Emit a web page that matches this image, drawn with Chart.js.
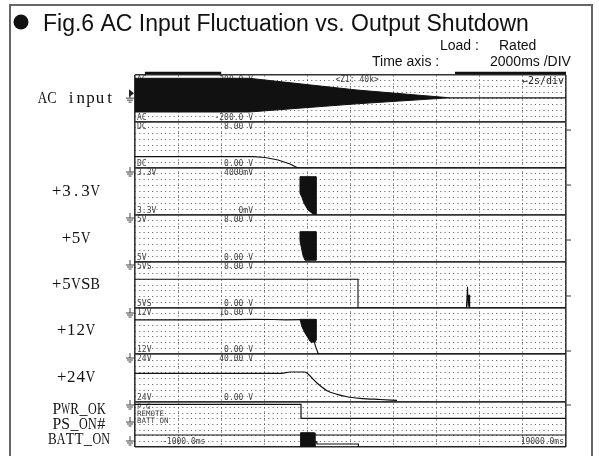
<!DOCTYPE html>
<html>
<head>
<meta charset="utf-8">
<script src="https://cdn.jsdelivr.net/npm/chart.js@4.4.1/dist/chart.umd.min.js"></script>
<style>
  html, body { margin: 0; padding: 0; background: #fff; }
  #wrap { width: 599px; height: 456px; position: relative; }
</style>
</head>
<body>
<div id="wrap"><canvas id="scope"></canvas></div>
<script>
// Time base: 2000 ms per division, record runs from -1000 ms to 19000 ms
const timeGrid = [-1000, 1000, 3000, 5000, 7000, 9000, 11000, 13000, 15000, 17000, 19000];

// Channels, top to bottom
const channelIds   = ['ac', 'dc', 'v33', 'v5', 'v5sb', 'v12', 'v24', 'logic'];
const channelNames = ['AC input', '', '+3.3V', '+5V', '+5VSB', '+12V', '+24V', ''];
const channelMin   = [-200, 0, 0, 0, 0, 0, 0, 0];
const channelMax   = [200, 8, 4000, 8, 8, 16, 40, 8];
const channelTopText = [['AC', '200.0 V'], ['DC', '8.00 V'], ['3.3V', '4000mV'], ['5V', '8.00 V'],
                        ['5VS', '8.00 V'], ['12V', '16.00 V'], ['24V', '40.00 V'], null];
const channelBottomText = [['AC', '-200.0 V'], ['DC', '0.00 V'], ['3.3V', '0mV'], ['5V', '0.00 V'],
                           ['5VS', '0.00 V'], ['12V', '0.00 V'], ['24V', '0.00 V'], null];

// Logic channels sharing the bottom strip
const logicNames = ['PWR_OK', 'PS_ON#', 'BATT_ON'];
const logicTags  = ['P.G', 'REMOTE', 'BATT ON'];

// Recorded traces, [time ms, value]
const acEnvelope = [[-1000, 172], [4300, 172], [9300, 72], [13600, 6], [9300, -45], [4300, -115], [-1000, -115]];
const acResidual = [[13600, 6], [19000, 6]];
const dcSense    = [[-1000, 1.97], [4480, 1.97], [5030, 1.83], [5640, 1.39], [6190, 0.70], [6520, 0.09], [6700, 0], [19000, 0]];
const v33Burst   = [[6657, 3260], [7399, 3260], [7399, 60], [7260, 85], [7028, 430], [6843, 1000], [6750, 1500], [6657, 1850], [6657, 3260]];
const v5Burst    = [[6657, 5.16], [7399, 5.16], [7399, 0.3], [6889, 0.3], [6796, 1.1], [6657, 3.6], [6657, 5.16]];
const v5sbTrace  = [[-1000, 4.99], [9348, 4.99], [9348, 0], [14380, 0], [14430, 3.7], [14460, 0.2], [14500, 2.3], [14530, 0], [19000, 0]];
const v12Level   = [[-1000, 11.85], [1000, 11.9], [2500, 11.85], [3700, 11.95], [4500, 12.05], [5400, 12.0], [6000, 11.9], [6657, 11.95]];
const v12Burst   = [[6657, 12.05], [7399, 12.05], [7399, 4.8], [7330, 3.8], [7260, 4.3], [7190, 3.9], [7121, 4.5],
                    [6889, 7.3], [6750, 9.4], [6657, 12.05]];
const v12Tail    = [[7330, 3.8], [7400, 2.2], [7460, 1.0], [7506, 0], [19000, 0]];
const v24Trace   = [[-1000, 23.9], [5800, 23.9], [6200, 25.0], [6850, 25.0], [6982, 24.2], [7213, 20.0], [7446, 15.8],
                    [7910, 9.4], [8374, 6.4], [8838, 4.4], [9441, 3.1], [10369, 2.1], [11158, 1.4]];
const pwrOk      = [[-1000, 7.59], [6704, 7.59], [6704, 5.1], [19000, 5.1]];
const psOn       = [[-1000, 2.13], [19000, 2.13]];
const battOn     = [[-1000, 0], [6657, 0]];
const battBurst  = [[6657, 0], [6670, 2.2], [6700, 2.54], [7320, 2.54], [7352, 2.2], [7352, 0]];
const battAfter  = [[7352, 0.9], [7440, 0.9], [7440, 0.53], [9362, 0.53], [9362, 0], [19000, 0]];

// Screen-marker bars above the record and level markers at the right edge
const zoomBars = [[-540, 3000], [13850, 19000]];
const levelMarks = [['dc', 6.6], ['v33', 2550], ['v5', 3.74], ['v5sb', 2.09], ['v12', 1.04], ['logic', 7.47]];

// ---- layout constants ----
const panelWeights = [47, 46, 47, 47, 46, 46, 48, 45];
const INK = '#111';

const toXY = arr => arr.map(([x, y]) => ({ x, y }));

function trace(data, axis, extra) {
  return Object.assign({
    data: toXY(data), yAxisID: axis, borderColor: INK, borderWidth: 1.2,
    pointRadius: 0, pointHoverRadius: 0, fill: false, tension: 0
  }, extra || {});
}
function burst(data, axis) {
  return trace(data, axis, { fill: 'shape', backgroundColor: INK, borderWidth: 1 });
}

const datasets = [
  burst(acEnvelope, 'ac'),
  trace(acResidual, 'ac'),
  trace(dcSense, 'dc'),
  burst(v33Burst, 'v33'),
  burst(v5Burst, 'v5'),
  trace(v5sbTrace, 'v5sb', { borderWidth: 1.1 }),
  trace(v12Level, 'v12'),
  burst(v12Burst, 'v12'),
  trace(v12Tail, 'v12'),
  trace(v24Trace, 'v24', { cubicInterpolationMode: 'monotone' }),
  trace(pwrOk, 'logic'),
  trace(psOn, 'logic'),
  trace(battOn, 'logic'),
  burst(battBurst, 'logic'),
  trace(battAfter, 'logic')
];

const isEdge = (ctx, last) => ctx.index === 0 || ctx.index === last;

const scales = {
  x: {
    type: 'linear', position: 'bottom',
    min: timeGrid[0], max: timeGrid[timeGrid.length - 1],
    afterBuildTicks: s => { s.ticks = timeGrid.map(v => ({ value: v })); },
    ticks: { display: false },
    border: { display: false, dash: ctx => isEdge(ctx, timeGrid.length - 1) ? [] : [2, 2] },
    grid: {
      drawTicks: false,
      color: ctx => isEdge(ctx, timeGrid.length - 1) ? '#333' : '#a0a0a0',
      lineWidth: ctx => isEdge(ctx, timeGrid.length - 1) ? 1.6 : 1
    }
  }
};
channelIds.forEach((id, i) => {
  scales[id] = {
    type: 'linear', position: 'left', stack: 'scope',
    stackWeight: panelWeights[i], weight: channelIds.length - i,
    min: channelMin[i], max: channelMax[i],
    afterBuildTicks: s => {
      const lo = channelMin[i], hi = channelMax[i];
      s.ticks = Array.from({ length: 9 }, (_, k) => ({ value: lo + (hi - lo) * k / 8 }));
    },
    ticks: { display: false },
    border: { display: false, dash: ctx => isEdge(ctx, 8) ? [] : [1, 3.3] },
    grid: {
      drawTicks: false,
      color: ctx => isEdge(ctx, 8) ? '#333' : '#555',
      lineWidth: ctx => isEdge(ctx, 8) ? 1.6 : 1
    }
  };
});

// Fixed-pitch serif lettering; wide glyphs are narrowed to fit their cell
function drawPitched(c, text, cx, cy, pitch) {
  let x = cx - pitch * text.length / 2 + pitch / 2;
  for (const ch of text) {
    const w = c.measureText(ch).width;
    const room = pitch * 0.98;
    if (w > room) {
      c.save();
      c.translate(x, cy);
      c.scale(room / w, 1);
      c.fillText(ch, 0, 0);
      c.restore();
    } else {
      c.fillText(ch, x, cy);
    }
    x += pitch;
  }
}

function groundMark(c, x, y) {
  c.beginPath();
  c.moveTo(x, y - 5); c.lineTo(x, y);
  c.moveTo(x - 4, y); c.lineTo(x + 4, y);
  c.moveTo(x - 3, y + 2); c.lineTo(x + 3, y + 2);
  c.moveTo(x - 1.5, y + 4); c.lineTo(x + 1.5, y + 4);
  c.stroke();
}

const scopeDecor = {
  id: 'scopeDecor',
  beforeDraw(chart) {
    const c = chart.ctx;
    c.save();
    c.fillStyle = '#fff';
    c.fillRect(0, 0, chart.width, chart.height);
    c.restore();
  },
  beforeDatasetsDraw(chart) {
    const c = chart.ctx;
    const area = chart.chartArea;
    const xs = chart.scales.x;
    c.save();
    c.fillStyle = '#444';
    c.font = '8px "DejaVu Sans Mono"';
    channelIds.forEach((id, i) => {
      const s = chart.scales[id];
      if (channelTopText[i]) {
        c.textBaseline = 'top';
        c.textAlign = 'left';
        c.fillText(channelTopText[i][0], area.left + 2, s.top + 1);
        c.textAlign = 'right';
        c.fillText(channelTopText[i][1], area.left + 118, s.top + 1);
      }
      if (channelBottomText[i]) {
        c.textBaseline = 'bottom';
        c.textAlign = 'left';
        c.fillText(channelBottomText[i][0], area.left + 2, s.bottom);
        c.textAlign = 'right';
        c.fillText(channelBottomText[i][1], area.left + 118, s.bottom);
      }
    });
    // logic strip tags
    const lg = chart.scales.logic;
    c.font = '7.5px "DejaVu Sans Mono"';
    c.textAlign = 'left';
    c.textBaseline = 'top';
    logicTags.forEach((t, k) => c.fillText(t, area.left + 2, lg.top + 1 + k * 7));
    // record span
    c.font = '8px "DejaVu Sans Mono"';
    c.textBaseline = 'middle';
    c.textAlign = 'left';
    c.fillText('-1000.0ms', area.left + 27, lg.bottom - 5);
    c.textAlign = 'right';
    c.fillText('19000.0ms', area.right - 2, lg.bottom - 5);
    // zoom ratio and time/div readout
    const ac = chart.scales.ac;
    c.textAlign = 'left';
    c.textBaseline = 'top';
    c.fillText('<Z1: 40k>', xs.getPixelForValue(8300), ac.top + 1);
    c.fillStyle = '#222';
    c.font = '10px "DejaVu Sans Mono"';
    c.textAlign = 'right';
    c.fillText('\u21902s/div', area.right - 2, ac.top + 1);
    c.restore();
  },
  afterDraw(chart) {
    const c = chart.ctx;
    const area = chart.chartArea;
    const xs = chart.scales.x;
    c.save();

    // outer frame
    c.strokeStyle = '#666';
    c.lineWidth = 2;
    c.strokeRect(10, 5, 582, 470);

    // heading
    c.fillStyle = INK;
    c.beginPath();
    c.arc(21, 22, 7.5, 0, Math.PI * 2);
    c.fill();
    c.font = '23px "Liberation Sans"';
    c.textAlign = 'left';
    c.textBaseline = 'alphabetic';
    c.fillText('Fig.6 AC Input Fluctuation vs. Output Shutdown', 43, 31);
    c.font = '14px "Liberation Sans"';
    c.fillText('Load :', 440, 50);
    c.fillText('Rated', 499, 50);
    c.fillText('Time axis :', 372, 66);
    c.fillText('2000ms /DIV', 490, 66);

    // screen-marker bars
    c.strokeStyle = INK;
    c.lineWidth = 2.5;
    zoomBars.forEach(([a, b]) => {
      c.beginPath();
      c.moveTo(xs.getPixelForValue(a), area.top - 2);
      c.lineTo(xs.getPixelForValue(b), area.top - 2);
      c.stroke();
    });

    // level markers on the right edge
    c.strokeStyle = '#555';
    c.lineWidth = 1.2;
    levelMarks.forEach(([id, v]) => {
      const y = chart.scales[id].getPixelForValue(v);
      c.beginPath();
      c.moveTo(area.right, y);
      c.lineTo(area.right + 5, y);
      c.stroke();
    });

    // channel names
    c.fillStyle = INK;
    c.font = '17px "Liberation Serif"';
    c.textAlign = 'center';
    c.textBaseline = 'middle';
    const labelX = 76;
    channelIds.forEach((id, i) => {
      if (!channelNames[i]) return;
      const s = chart.scales[id];
      drawPitched(c, channelNames[i], labelX, (s.top + s.bottom) / 2, 9.6);
    });
    const lg = chart.scales.logic;
    const logicLevels = [6.6, 4.0, 1.2];
    c.font = '16px "Liberation Serif"';
    logicNames.forEach((n, k) => drawPitched(c, n, labelX + 3, lg.getPixelForValue(logicLevels[k]), 8.9));

    // ground markers
    c.strokeStyle = '#444';
    c.lineWidth = 1;
    const gx = area.left - 5;
    const ac = chart.scales.ac;
    const acMid = ac.getPixelForValue(20);
    groundMark(c, gx, acMid + 2);
    c.fillStyle = '#222';
    c.beginPath();
    c.moveTo(gx - 1, acMid - 7);
    c.lineTo(gx + 4, acMid - 3);
    c.lineTo(gx - 1, acMid + 1);
    c.closePath();
    c.fill();
    [['v33', 4], ['v5', 3], ['v5sb', 3], ['v12', 5], ['v24', 4]].forEach(([id, dy]) => {
      groundMark(c, gx, chart.scales[id].top + dy);
    });
    [3, 20, 39].forEach(dy => groundMark(c, gx, lg.top + dy));

    c.restore();
  }
};

Chart.defaults.font.family = '"DejaVu Sans Mono", monospace';

new Chart(document.getElementById('scope'), {
  type: 'line',
  data: { datasets },
  options: {
    responsive: true,
    maintainAspectRatio: false,
    animation: false,
    layout: { padding: { left: 135, top: 75, right: 33, bottom: 9 } },
    plugins: { legend: { display: false }, tooltip: { enabled: false } },
    scales
  },
  plugins: [scopeDecor]
});
</script>
</body>
</html>
